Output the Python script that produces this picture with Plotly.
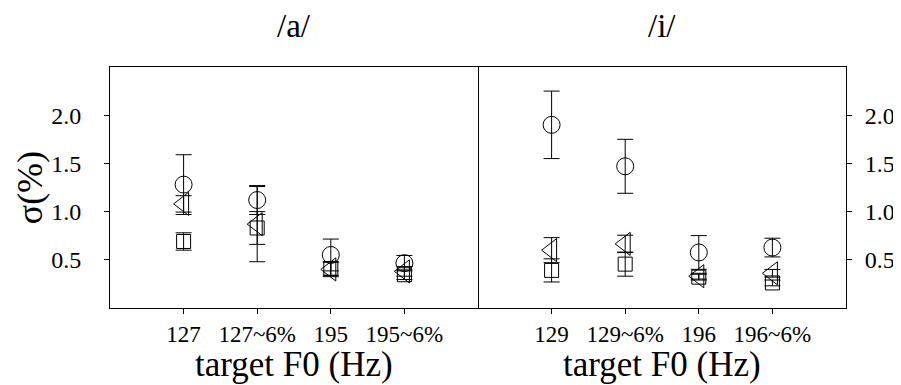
import plotly.graph_objects as go

categories_a = ["127", "127~6%", "195", "195~6%"]
categories_i = ["129", "129~6%", "196", "196~6%"]
cat_pos = [1, 2, 3, 4]

circle_a = [1.28, 1.12, 0.55, 0.465]
circle_a_err = [0.31, 0.15, 0.165, 0.08]
triangle_a = [1.08, 0.87, 0.40, 0.38]
triangle_a_err = [0.085, 0.39, 0.075, 0.05]
square_a = [0.69, 0.83, 0.41, 0.345]
square_a_err = [0.09, 0.17, 0.07, 0.05]

circle_i = [1.90, 1.47, 0.576, 0.627]
circle_i_err = [0.35, 0.28, 0.175, 0.097]
triangle_i = [0.60, 0.665, 0.33, 0.36]
triangle_i_err = [0.13, 0.09, 0.03, 0.04]
square_i = [0.39, 0.455, 0.32, 0.26]
square_i_err = [0.12, 0.125, 0.03, 0.03]

y_ticks = [0.5, 1.0, 1.5, 2.0]
y_tick_text = ["0.5", "1.0", "1.5", "2.0"]

FONT = "Liberation Serif"

fig = go.Figure()

def add_series(xaxis, yaxis, vals, errs, symbol, size):
    fig.add_trace(go.Scatter(
        x=cat_pos, y=vals, mode="markers", xaxis=xaxis, yaxis=yaxis,
        marker=dict(symbol=symbol, size=size, color="black",
                    line=dict(color="black", width=1)),
        error_y=dict(type="data", array=errs, visible=True, color="black",
                     thickness=1, width=8),
        showlegend=False, hoverinfo="y"))

add_series("x", "y", circle_a, circle_a_err, "circle-open", 17)
add_series("x", "y", triangle_a, triangle_a_err, "triangle-left-open", 20)
add_series("x", "y", square_a, square_a_err, "square-open", 14)
add_series("x2", "y2", circle_i, circle_i_err, "circle-open", 17)
add_series("x2", "y2", triangle_i, triangle_i_err, "triangle-left-open", 20)
add_series("x2", "y2", square_i, square_i_err, "square-open", 14)

axis_common = dict(showline=True, linecolor="black", linewidth=1,
                   showgrid=False, zeroline=False, ticks="outside",
                   ticklen=5, tickcolor="black", tickwidth=1)

fig.update_layout(
    width=901, height=385,
    margin=dict(l=102, r=63, t=59, b=85),
    paper_bgcolor="white", plot_bgcolor="white",
    font=dict(family=FONT, color="black"),
    xaxis=dict(domain=[0, 0.5], range=[0, 5], tickvals=cat_pos, mirror=True,
               ticktext=categories_a, tickfont=dict(size=23), **axis_common),
    xaxis2=dict(domain=[0.5, 1], range=[0, 5], tickvals=cat_pos, mirror=True,
                ticktext=categories_i, tickfont=dict(size=23), anchor="y2",
                **axis_common),
    yaxis=dict(range=[0, 2.5], tickvals=y_ticks, ticktext=y_tick_text,
               mirror=True, ticklabelstandoff=18,
               tickfont=dict(size=24), anchor="x", **axis_common),
    yaxis2=dict(range=[0, 2.5], tickvals=y_ticks, ticktext=y_tick_text,
                mirror=False, ticklabelstandoff=8,
                tickfont=dict(size=24), anchor="x2", side="right",
                **axis_common),
    annotations=[
        dict(text="/a/", x=0.25, y=1.17, xref="paper", yref="paper",
             xanchor="center", yanchor="middle",
             showarrow=False, font=dict(size=33, family=FONT)),
        dict(text="/i/", x=0.75, y=1.17, xref="paper", yref="paper",
             xanchor="center", yanchor="middle",
             showarrow=False, font=dict(size=33, family=FONT)),
        dict(text="target F0 (Hz)", x=0.25, y=-0.236, xref="paper", yref="paper",
             xanchor="center", yanchor="middle",
             showarrow=False, font=dict(size=35, family=FONT)),
        dict(text="target F0 (Hz)", x=0.75, y=-0.236, xref="paper", yref="paper",
             xanchor="center", yanchor="middle",
             showarrow=False, font=dict(size=35, family=FONT)),
        dict(text="σ(%)", x=-0.109, y=0.5, xref="paper", yref="paper",
             xanchor="center", yanchor="middle",
             showarrow=False, textangle=-90, font=dict(size=36, family=FONT)),
    ],
)

fig.write_html("out.html")
